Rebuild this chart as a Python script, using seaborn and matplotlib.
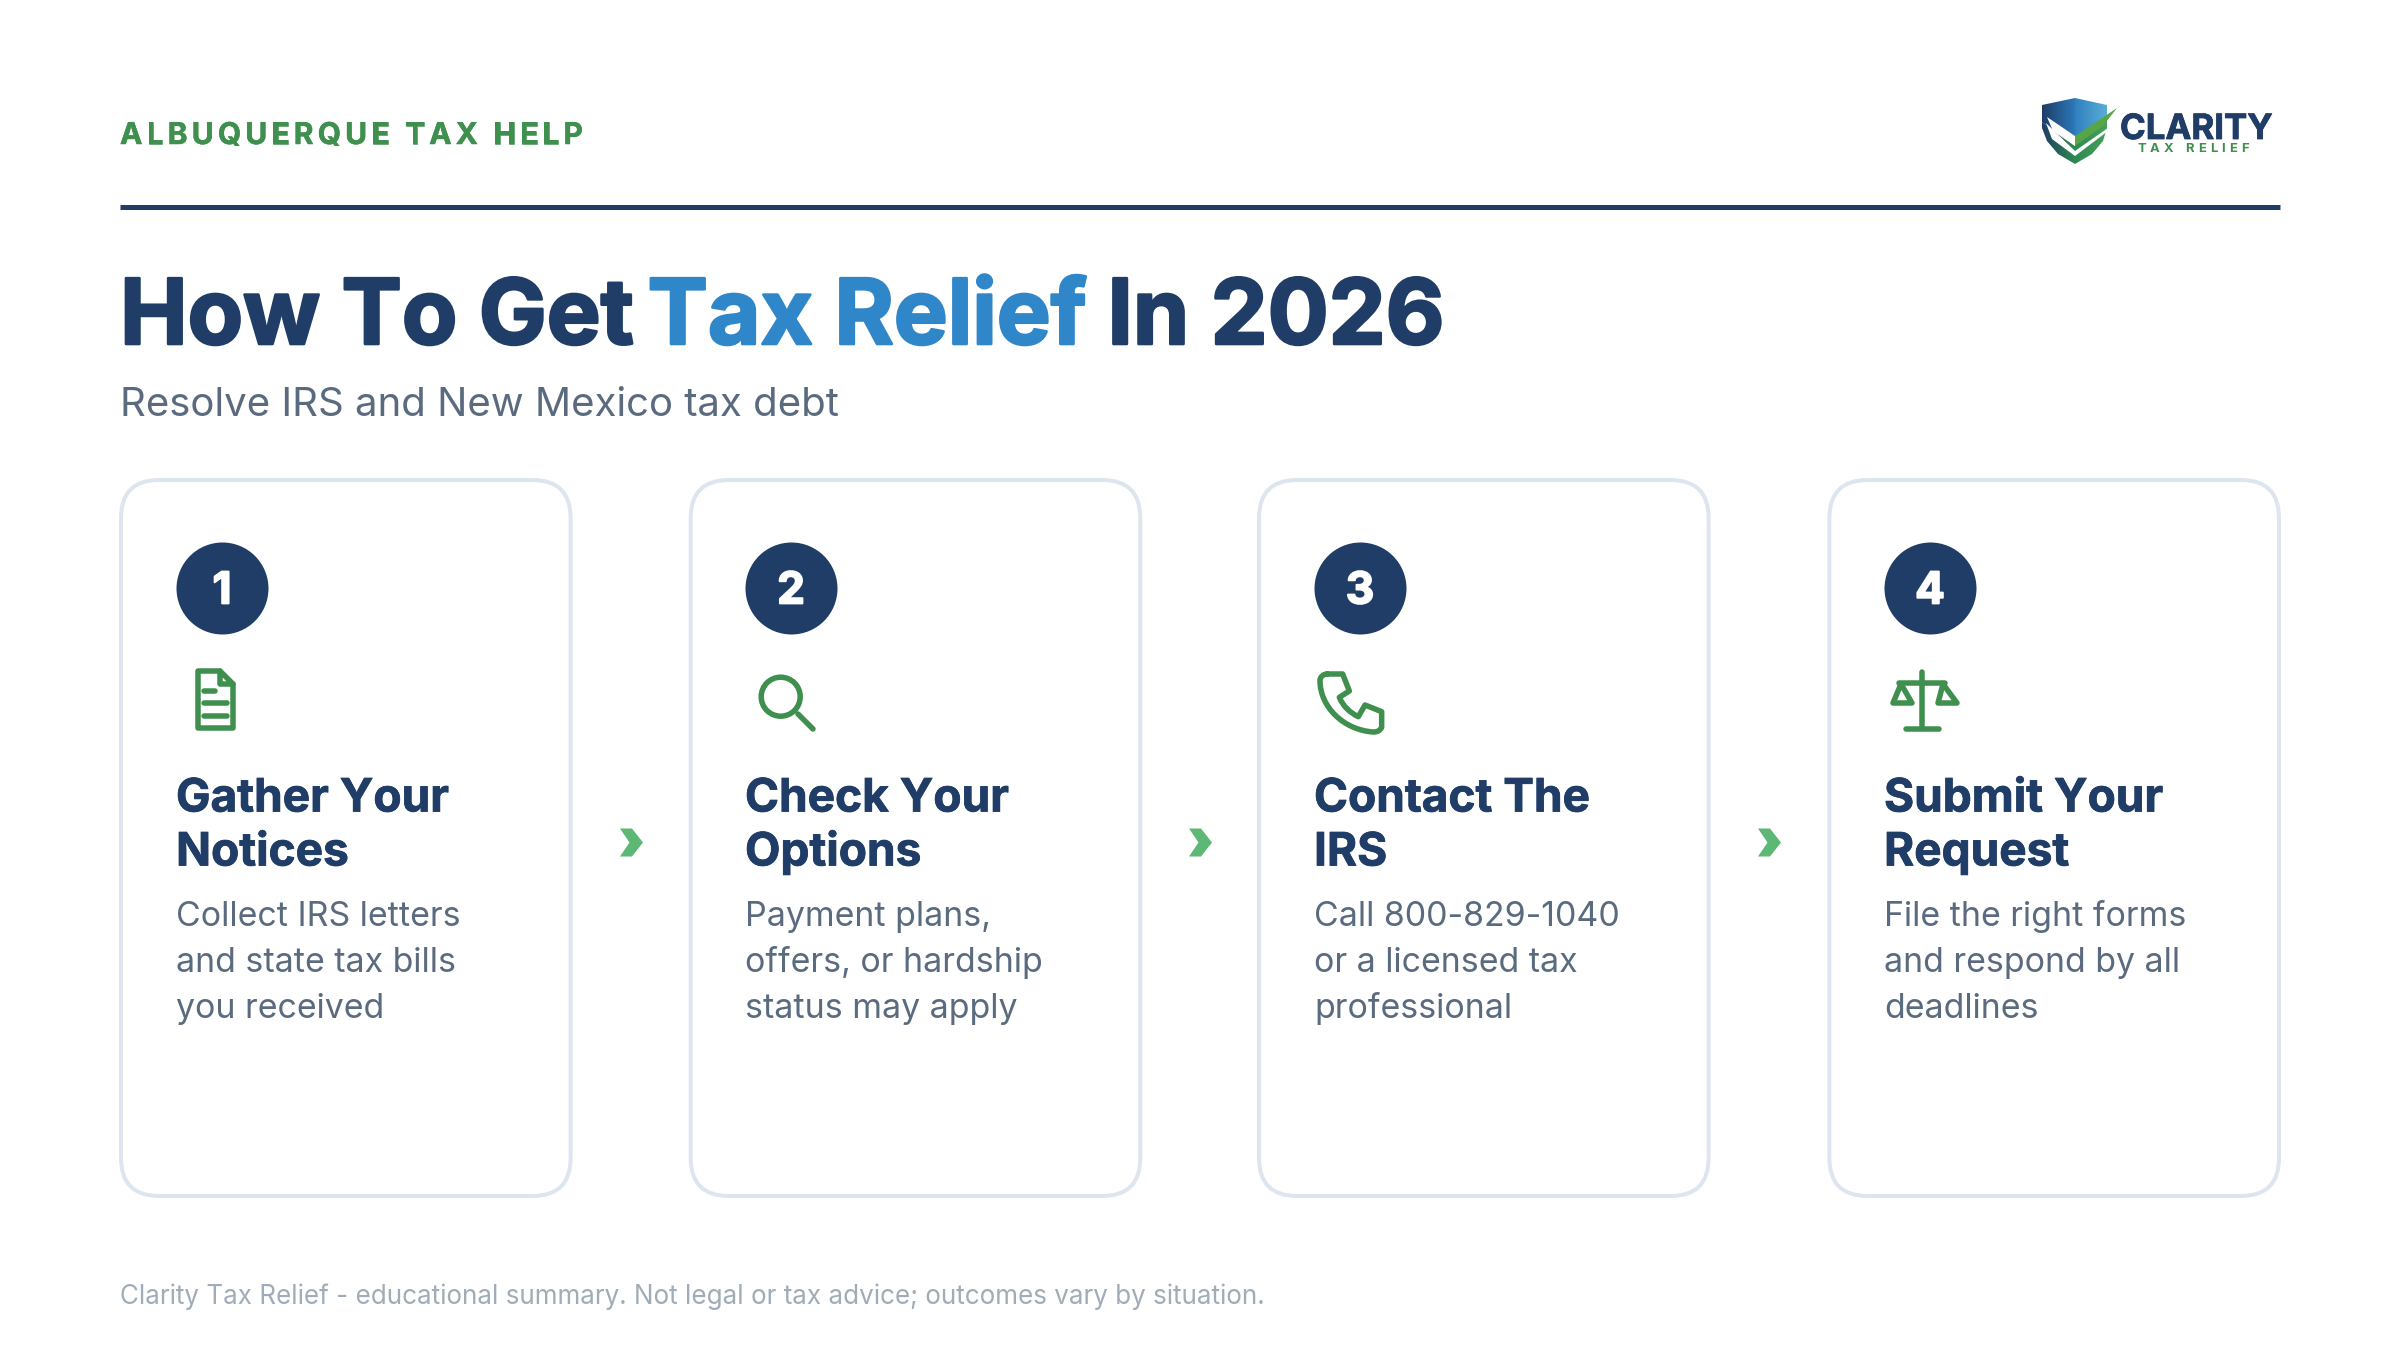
import numpy as np
import pandas as pd
import matplotlib
matplotlib.use("Agg")
import matplotlib.pyplot as plt
import matplotlib.patheffects as pe
from matplotlib.font_manager import FontProperties
from matplotlib.patches import FancyBboxPatch, Circle, PathPatch, Polygon
from matplotlib.path import Path
from matplotlib.colors import LinearSegmentedColormap
import seaborn as sns

# chart content
header = "ALBUQUERQUE TAX HELP"
title_parts = ["How To Get ", "Tax Relief", " In 2026"]
subtitle = "Resolve IRS and New Mexico tax debt"
footer = "Clarity Tax Relief - educational summary. Not legal or tax advice; outcomes vary by situation."
step_numbers = ["1", "2", "3", "4"]
step_titles = [["Gather Your", "Notices"], ["Check Your", "Options"],
               ["Contact The", "IRS"], ["Submit Your", "Request"]]
step_bodies = [["Collect IRS letters", "and state tax bills", "you received"],
               ["Payment plans,", "offers, or hardship", "status may apply"],
               ["Call 800-829-1040", "or a licensed tax", "professional"],
               ["File the right forms", "and respond by all", "deadlines"]]
logo_name = "CLARITY"
logo_tag = "TAX RELIEF"

NAVY = "#1f3d66"
BLUE = "#2f86c8"
GREEN = "#3f8f4f"
ARROW = "#5cb874"
GREY = "#5b6b7f"
LIGHT = "#a0acb8"
BORDER = "#dde6ef"

sns.set_theme(style="white")
plt.rcParams["font.family"] = ["Inter", "DejaVu Sans"]

fig = plt.figure(figsize=(24, 13.5), dpi=100, facecolor="white")
ax = fig.add_axes([0, 0, 1, 1])
ax.set_xlim(0, 2400)
ax.set_ylim(1350, 0)
ax.axis("off")
renderer = fig.canvas.get_renderer()


def px(v):
    return v * 0.72


def put(x, y, s, size, color, weight="normal", stroke=0, **kw):
    t = ax.text(x, y, s, fontsize=px(size), color=color, fontweight=weight,
                va="baseline", ha=kw.pop("ha", "left"), **kw)
    if stroke:
        # Inter stops at bold here, so thicken for the heavier cuts
        t.set_path_effects([pe.withStroke(linewidth=px(stroke), foreground=color)])
    return t


def advance(s, size, weight):
    # width of a string including trailing spaces
    fp = FontProperties(family="Inter", size=px(size), weight=weight)
    a = renderer.get_text_width_height_descent(s + "|", fp, False)[0]
    b = renderer.get_text_width_height_descent("|", fp, False)[0]
    return a - b


def spaced(x, y, s, size, color, weight, gap, stroke=0):
    for i, ch in enumerate(s):
        put(x + advance(s[:i], size, weight) + i * gap, y, ch, size, color, weight, stroke)


# header
spaced(120, 144, header, 30, GREEN, "bold", 4.15, stroke=0.5)
ax.plot([120, 2280], [206.5, 206.5], color=NAVY, lw=px(5), solid_capstyle="butt")

# title, three colours chained, nudged for the tighter tracking
tx = 120
for part, col, nudge in zip(title_parts, [NAVY, BLUE, NAVY], [-7.6, -1, 0]):
    put(tx, 344, part, 90.5, col, "bold", stroke=2.6)
    tx += advance(part, 90.5, "bold") + nudge
put(120, 416, subtitle, 40.2, GREY)
put(120, 1304, footer, 26, LIGHT)

# cards
card_left = [121, 690.7, 1259, 1829.4]
for i, left in enumerate(card_left):
    ax.add_patch(FancyBboxPatch((left, 480), 449.6, 716, boxstyle="round,pad=0,rounding_size=38",
                                fc="white", ec=BORDER, lw=px(4)))
    tx = int(left) + 55
    for j, line in enumerate(step_titles[i]):
        put(tx, 811.5 + j * 54, line, 46, NAVY, "bold", stroke=0.8)
    for j, line in enumerate(step_bodies[i]):
        put(tx, 926 + j * 46, line, 33.9, GREY)

# number badges
badges = pd.DataFrame({"x": [int(c) + 101 for c in card_left], "y": 588, "step": step_numbers})
sns.scatterplot(data=badges, x="x", y="y", s=px(92) ** 2, color=NAVY, linewidth=0, legend=False, ax=ax, zorder=3)
for _, row in badges.iterrows():
    t = ax.text(row.x, row.y + 4, row.step, color="white", fontsize=px(44), fontweight="bold",
                ha="center", va="center", zorder=4)
    t.set_path_effects([pe.withStroke(linewidth=px(1.8), foreground="white")])
ax.set_xlabel("")
ax.set_ylabel("")

# chevrons between cards
chevron = Path([(-11.5, 14), (0.5, 14), (11.5, 0), (0.5, -14), (-11.5, -14), (-2, 0), (-11.5, 14)], closed=True)
gaps = pd.DataFrame({"x": [630.5, 1199.5, 1768.5], "y": 842})
sns.scatterplot(data=gaps, x="x", y="y", marker=chevron, s=px(28) ** 2, color=ARROW, linewidth=0,
                legend=False, ax=ax, zorder=3)
ax.set_xlabel("")
ax.set_ylabel("")
ax.set_xlim(0, 2400)
ax.set_ylim(1350, 0)

# icons
line_kw = dict(color=GREEN, lw=px(5.5), solid_capstyle="round", solid_joinstyle="round")
patch_kw = dict(fc="none", ec=GREEN, lw=px(5.5), joinstyle="round", capstyle="round")

# document
ax.add_patch(Polygon([(198, 671), (220, 671), (233, 684), (233, 728), (198, 728)], closed=True, **patch_kw))
ax.plot([220, 220, 233], [671, 684, 684], **line_kw)
ax.plot([204, 215], [690.5, 690.5], **line_kw)
ax.plot([204, 227], [702.5, 702.5], **line_kw)
ax.plot([204, 227], [715.5, 715.5], **line_kw)

# magnifier
ax.add_patch(Circle((780.7, 696.7), 19.5, **patch_kw))
ax.plot([798, 813], [714, 729], **line_kw)


def z3(x, y):
    return (x / 3 + 1290, y / 3 + 520)


# phone
M, L, C = Path.MOVETO, Path.LINETO, Path.CURVE4
phone_pts = [(112, 462), (158, 462), (178, 513), (148, 532), (160, 560), (180, 578), (205, 590),
             (225, 555), (275, 575), (275, 622), (270, 632), (262, 636), (250, 636),
             (160, 630), (90, 560), (90, 482), (90, 470), (100, 462), (112, 462)]
phone_codes = [M, L, L, L, C, C, C, L, L, L, C, C, C, C, C, C, C, C, C]
ax.add_patch(PathPatch(Path([z3(*p) for p in phone_pts], phone_codes), **patch_kw))

# scales
ax.plot([1921.7, 1921.7], [672, 728], **line_kw)
ax.plot([1906, 1939], [728.5, 728.5], **line_kw)
ax.plot([1899, 1945], [682.5, 682.5], **line_kw)
ax.add_patch(Polygon([(1901, 684), (1893, 703), (1912, 703)], closed=True, **patch_kw))
ax.add_patch(Polygon([(1943, 684), (1938, 703), (1957, 703)], closed=True, **patch_kw))


# logo shield
def gradient(verts, c0, c1):
    cmap = LinearSegmentedColormap.from_list("g", [c0, c1])
    xs, ys = zip(*verts)
    g = np.tile(np.linspace(0, 1, 64), (64, 1))
    im = ax.imshow(g, cmap=cmap, extent=(min(xs), max(xs), max(ys), min(ys)), aspect="auto", zorder=3)
    im.set_clip_path(Polygon(verts, closed=True, transform=ax.transData))


gradient([(2042, 105), (2075, 98), (2075, 146), (2042, 122)], "#1f3d66", "#2c78b8")
gradient([(2075, 98), (2107, 105), (2107, 115), (2075, 140)], "#2f80bf", "#5aaed5")
gradient([(2042, 122), (2075, 146), (2075, 164), (2058, 154), (2047, 141), (2042, 128)], "#1f3d66", "#2f8a50")
gradient([(2075, 140), (2107, 115), (2107, 128), (2103, 141), (2092, 154), (2075, 164)], "#2f8a50", "#46a05a")
ax.add_patch(Polygon([(2047, 117), (2075, 136), (2075, 146), (2053, 131)], closed=True, fc="white", ec="none", zorder=4))
ax.add_patch(Polygon([(2046, 123), (2075, 151), (2108, 128), (2108, 131), (2075, 156), (2052, 139)], closed=True,
                     fc="white", ec="none", zorder=4))
ax.add_patch(Polygon([(2075, 136), (2117, 108), (2103, 126), (2075, 146)], closed=True,
                     fc="#58a548", ec="none", zorder=5))
ax.set_xlim(0, 2400)
ax.set_ylim(1350, 0)

put(2120, 139, logo_name, 34.8, NAVY, "bold", stroke=0.8, zorder=5)
spaced(2137, 152, logo_tag, 13, GREEN, "bold", 4.2)

fig.savefig("out.png", dpi=100, facecolor="white")
